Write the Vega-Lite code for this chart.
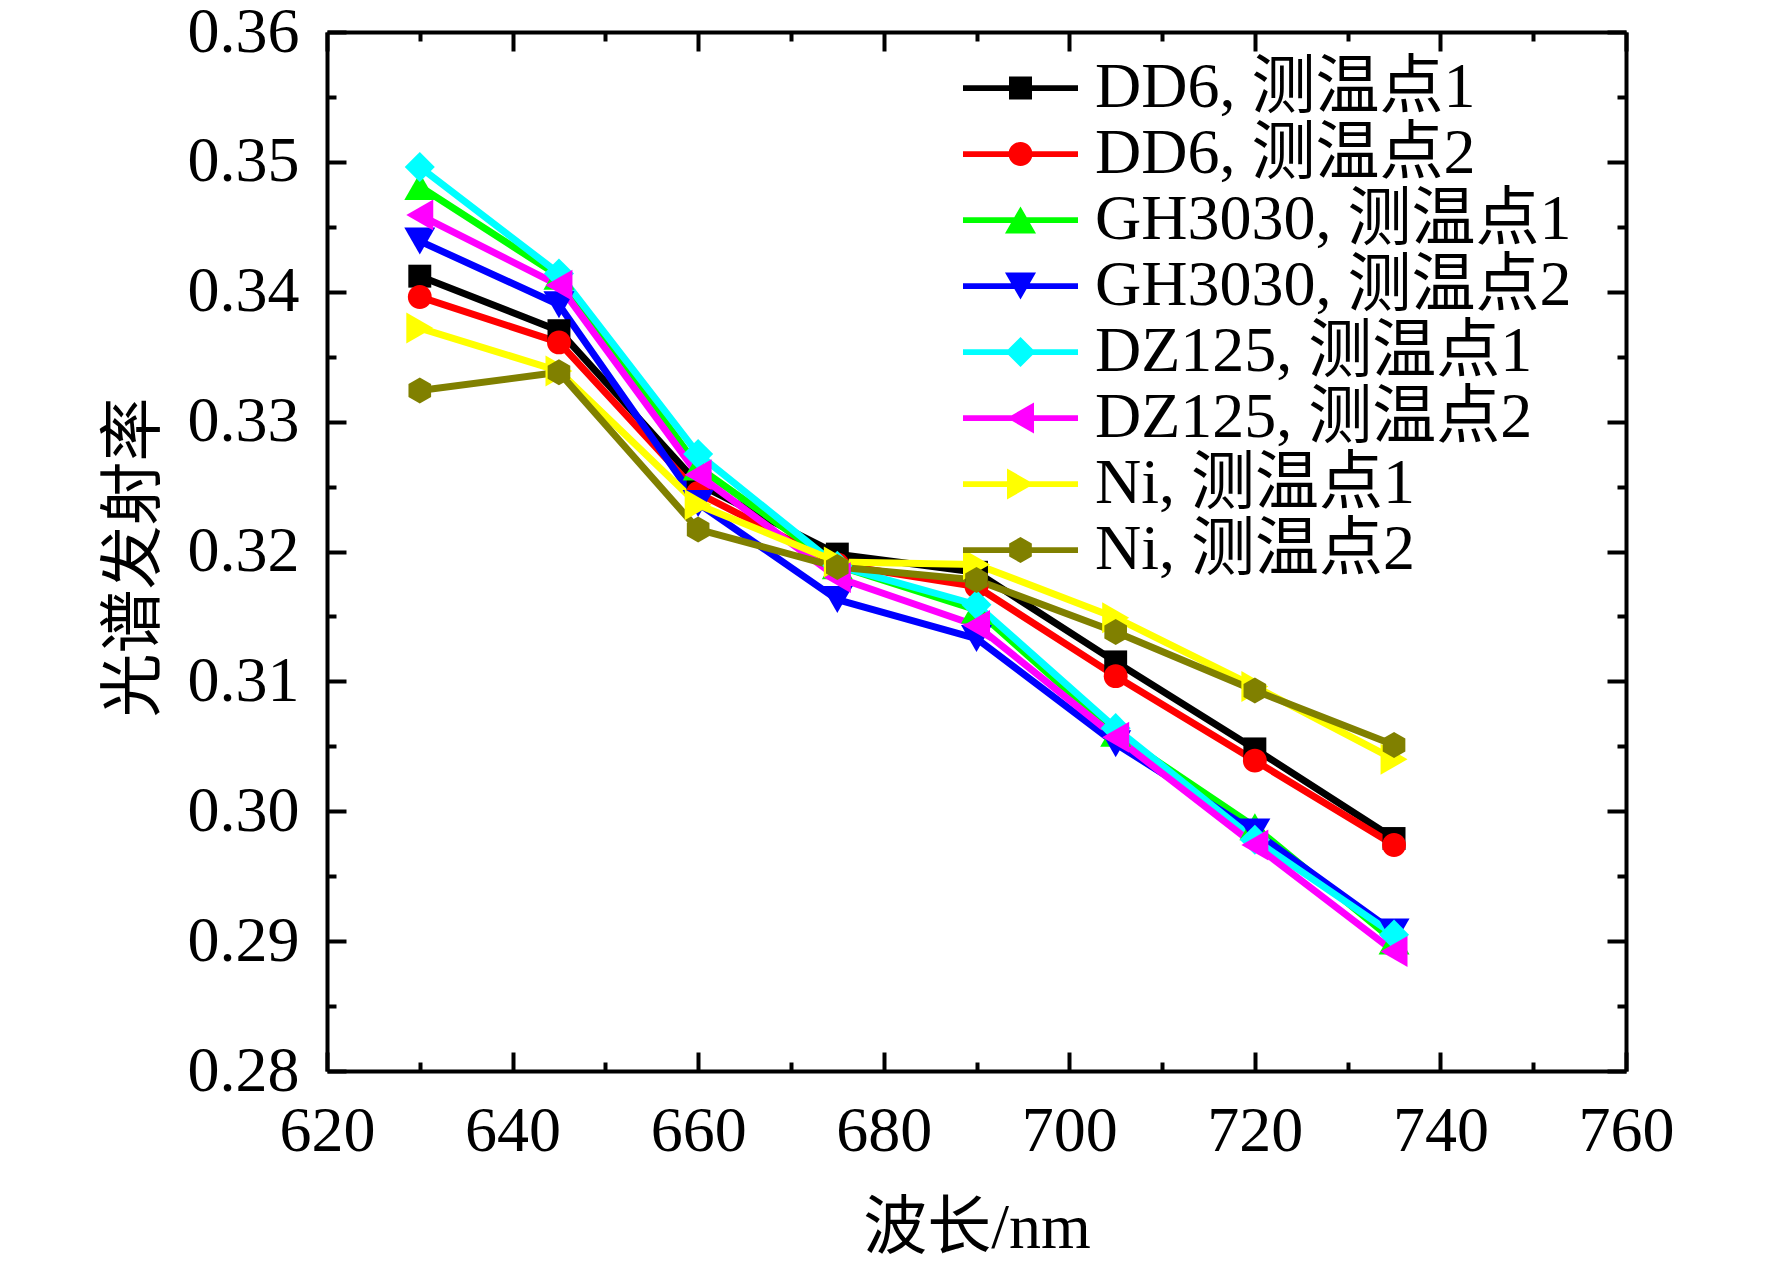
{
  "$schema": "https://vega.github.io/schema/vega-lite/v6.json",
  "width": 1299,
  "height": 1039,
  "autosize": {"type": "none"},
  "padding": {"left": 327, "top": 32, "right": 146, "bottom": 200},
  "background": "white",
  "config": {
    "view": {"stroke": null},
    "axis": {
      "domainColor": "black", "domainWidth": 4, "tickColor": "black", "tickWidth": 4,
      "grid": false, "labelFont": "Liberation Serif, Noto Sans CJK SC", "labelFontSize": 64,
      "labelColor": "black", "titleFont": "Liberation Serif, Noto Sans CJK SC", "titleFontSize": 64,
      "titleColor": "black", "titleFontWeight": "normal", "labelOverlap": false, "labelBound": false, "labelFlush": false
    },
    "legend": {
      "labelFont": "Liberation Serif, Noto Sans CJK SC", "labelFontSize": 64, "labelColor": "black", "labelLimit": 0,
      "symbolSize": 13225, "labelOffset": 17, "rowPadding": 2, "padding": 0, "symbolStrokeWidth": 0, "clipHeight": 64,
      "symbolOpacity": 1, "orient": "none", "legendX": 636, "legendY": 24, "title": null
    }
  },
  "data": {"values": [
    {"wl": 630, "e": 0.3412, "s": "DD6, 测温点1"},
    {"wl": 645, "e": 0.3370, "s": "DD6, 测温点1"},
    {"wl": 660, "e": 0.3252, "s": "DD6, 测温点1"},
    {"wl": 675, "e": 0.3198, "s": "DD6, 测温点1"},
    {"wl": 690, "e": 0.3184, "s": "DD6, 测温点1"},
    {"wl": 705, "e": 0.3115, "s": "DD6, 测温点1"},
    {"wl": 720, "e": 0.3048, "s": "DD6, 测温点1"},
    {"wl": 735, "e": 0.2979, "s": "DD6, 测温点1"},
    {"wl": 630, "e": 0.3396, "s": "DD6, 测温点2"},
    {"wl": 645, "e": 0.3361, "s": "DD6, 测温点2"},
    {"wl": 660, "e": 0.3245, "s": "DD6, 测温点2"},
    {"wl": 675, "e": 0.3190, "s": "DD6, 测温点2"},
    {"wl": 690, "e": 0.3173, "s": "DD6, 测温点2"},
    {"wl": 705, "e": 0.3104, "s": "DD6, 测温点2"},
    {"wl": 720, "e": 0.3039, "s": "DD6, 测温点2"},
    {"wl": 735, "e": 0.2974, "s": "DD6, 测温点2"},
    {"wl": 630, "e": 0.3481, "s": "GH3030, 测温点1"},
    {"wl": 645, "e": 0.3412, "s": "GH3030, 测温点1"},
    {"wl": 660, "e": 0.3265, "s": "GH3030, 测温点1"},
    {"wl": 675, "e": 0.3189, "s": "GH3030, 测温点1"},
    {"wl": 690, "e": 0.3155, "s": "GH3030, 测温点1"},
    {"wl": 705, "e": 0.3060, "s": "GH3030, 测温点1"},
    {"wl": 720, "e": 0.2988, "s": "GH3030, 测温点1"},
    {"wl": 735, "e": 0.2900, "s": "GH3030, 测温点1"},
    {"wl": 630, "e": 0.3439, "s": "GH3030, 测温点2"},
    {"wl": 645, "e": 0.3390, "s": "GH3030, 测温点2"},
    {"wl": 660, "e": 0.3237, "s": "GH3030, 测温点2"},
    {"wl": 675, "e": 0.3163, "s": "GH3030, 测温点2"},
    {"wl": 690, "e": 0.3133, "s": "GH3030, 测温点2"},
    {"wl": 705, "e": 0.3052, "s": "GH3030, 测温点2"},
    {"wl": 720, "e": 0.2984, "s": "GH3030, 测温点2"},
    {"wl": 735, "e": 0.2907, "s": "GH3030, 测温点2"},
    {"wl": 630, "e": 0.3496, "s": "DZ125, 测温点1"},
    {"wl": 645, "e": 0.3414, "s": "DZ125, 测温点1"},
    {"wl": 660, "e": 0.3275, "s": "DZ125, 测温点1"},
    {"wl": 675, "e": 0.3189, "s": "DZ125, 测温点1"},
    {"wl": 690, "e": 0.3159, "s": "DZ125, 测温点1"},
    {"wl": 705, "e": 0.3064, "s": "DZ125, 测温点1"},
    {"wl": 720, "e": 0.2978, "s": "DZ125, 测温点1"},
    {"wl": 735, "e": 0.2905, "s": "DZ125, 测温点1"},
    {"wl": 630, "e": 0.3459, "s": "DZ125, 测温点2"},
    {"wl": 645, "e": 0.3405, "s": "DZ125, 测温点2"},
    {"wl": 660, "e": 0.3259, "s": "DZ125, 测温点2"},
    {"wl": 675, "e": 0.3180, "s": "DZ125, 测温点2"},
    {"wl": 690, "e": 0.3143, "s": "DZ125, 测温点2"},
    {"wl": 705, "e": 0.3057, "s": "DZ125, 测温点2"},
    {"wl": 720, "e": 0.2974, "s": "DZ125, 测温点2"},
    {"wl": 735, "e": 0.2892, "s": "DZ125, 测温点2"},
    {"wl": 630, "e": 0.3372, "s": "Ni, 测温点1"},
    {"wl": 645, "e": 0.3339, "s": "Ni, 测温点1"},
    {"wl": 660, "e": 0.3236, "s": "Ni, 测温点1"},
    {"wl": 675, "e": 0.3192, "s": "Ni, 测温点1"},
    {"wl": 690, "e": 0.3190, "s": "Ni, 测温点1"},
    {"wl": 705, "e": 0.3149, "s": "Ni, 测温点1"},
    {"wl": 720, "e": 0.3096, "s": "Ni, 测温点1"},
    {"wl": 735, "e": 0.3040, "s": "Ni, 测温点1"},
    {"wl": 630, "e": 0.3324, "s": "Ni, 测温点2"},
    {"wl": 645, "e": 0.3338, "s": "Ni, 测温点2"},
    {"wl": 660, "e": 0.3217, "s": "Ni, 测温点2"},
    {"wl": 675, "e": 0.3188, "s": "Ni, 测温点2"},
    {"wl": 690, "e": 0.3178, "s": "Ni, 测温点2"},
    {"wl": 705, "e": 0.3138, "s": "Ni, 测温点2"},
    {"wl": 720, "e": 0.3093, "s": "Ni, 测温点2"},
    {"wl": 735, "e": 0.3051, "s": "Ni, 测温点2"}
  ]},
  "resolve": {"axis": {"x": "independent", "y": "independent"}, "scale": {"shape": "independent", "color": "independent"}},
  "layer": [
    {
      "mark": {"type": "point", "filled": true, "opacity": 0, "size": 13225, "strokeWidth": 0},
      "encoding": {
        "x": {"field": "wl", "type": "quantitative",
          "scale": {"domain": [620, 760], "nice": false, "zero": false},
          "axis": {"orient": "bottom", "values": [620, 630, 640, 650, 660, 670, 680, 690, 700, 710, 720, 730, 740, 750, 760],
            "labelExpr": "datum.value % 20 === 0 ? datum.label : ''",
            "tickSize": {"condition": {"test": "datum.value % 20 === 0", "value": -19}, "value": -9},
            "labelPadding": 47, "title": "波长/nm", "titleY": 157, "titleBaseline": "middle"}},
        "y": {"field": "e", "type": "quantitative",
          "scale": {"domain": [0.28, 0.36], "nice": false, "zero": false},
          "axis": {"orient": "left", "values": [0.28, 0.285, 0.29, 0.295, 0.3, 0.305, 0.31, 0.315, 0.32, 0.325, 0.33, 0.335, 0.34, 0.345, 0.35, 0.355, 0.36],
            "labelExpr": "abs(datum.value*100 - round(datum.value*100)) < 0.01 ? format(datum.value, '.2f') : ''",
            "tickSize": {"condition": {"test": "abs(datum.value*100 - round(datum.value*100)) < 0.01", "value": -19}, "value": -9},
            "labelPadding": 47, "title": "光谱发射率", "titleX": -193, "titleY": 525, "titleBaseline": "middle", "titleAlign": "center"}},
        "color": {"field": "s", "type": "nominal",
          "scale": {"domain": ["DD6, 测温点1", "DD6, 测温点2", "GH3030, 测温点1", "GH3030, 测温点2", "DZ125, 测温点1", "DZ125, 测温点2", "Ni, 测温点1", "Ni, 测温点2"],
            "range": ["#000000", "#ff0000", "#00ff00", "#0000ff", "#00ffff", "#ff00ff", "#ffff00", "#808000"]},
          "legend": {"title": null, "orient": "none", "legendX": 636, "legendY": 24, "symbolOpacity": 1, "symbolStrokeWidth": 0, "labelLimit": 0, "clipHeight": 64, "rowPadding": 2}},
        "shape": {"field": "s", "type": "nominal",
          "scale": {"domain": ["DD6, 测温点1", "DD6, 测温点2", "GH3030, 测温点1", "GH3030, 测温点2", "DZ125, 测温点1", "DZ125, 测温点2", "Ni, 测温点1", "Ni, 测温点2"],
            "range": [
              "M-1,-0.05H1V0.05H-1ZM-0.2,-0.2H0.2V0.2H-0.2Z",
              "M-1,-0.05H1V0.05H-1ZM-0.208,0A0.208,0.208,0,1,1,0.208,0A0.208,0.208,0,1,1,-0.208,0Z",
              "M-1,-0.05H1V0.05H-1ZM0,-0.235L0.27,0.235L-0.27,0.235Z",
              "M-1,-0.05H1V0.05H-1ZM0,0.235L-0.27,-0.235L0.27,-0.235Z",
              "M-1,-0.05H1V0.05H-1ZM0,-0.262L0.262,0L0,0.262L-0.262,0Z",
              "M-1,-0.05H1V0.05H-1ZM-0.235,0L0.235,-0.27L0.235,0.27Z",
              "M-1,-0.05H1V0.05H-1ZM0.235,0L-0.235,0.27L-0.235,-0.27Z",
              "M-1,-0.05H1V0.05H-1ZM0,-0.227L0.197,-0.113L0.197,0.113L0,0.227L-0.197,0.113L-0.197,-0.113Z"]},
          "legend": {"title": null, "orient": "none", "legendX": 636, "legendY": 24, "symbolOpacity": 1, "symbolStrokeWidth": 0, "labelLimit": 0, "clipHeight": 64, "rowPadding": 2}}
      }
    },
    {
      "mark": {"type": "line", "strokeWidth": 7, "strokeJoin": "round", "strokeCap": "round"},
      "encoding": {
        "x": {"field": "wl", "type": "quantitative", "axis": null},
        "y": {"field": "e", "type": "quantitative", "axis": null},
        "color": {"field": "s", "type": "nominal",
          "scale": {"domain": ["DD6, 测温点1", "DD6, 测温点2", "GH3030, 测温点1", "GH3030, 测温点2", "DZ125, 测温点1", "DZ125, 测温点2", "Ni, 测温点1", "Ni, 测温点2"],
            "range": ["#000000", "#ff0000", "#00ff00", "#0000ff", "#00ffff", "#ff00ff", "#ffff00", "#808000"]},
          "legend": null}
      }
    },
    {
      "mark": {"type": "point", "filled": true, "opacity": 1, "size": 961, "strokeWidth": 0},
      "encoding": {
        "x": {"field": "wl", "type": "quantitative",
          "axis": {"orient": "top", "values": [620, 630, 640, 650, 660, 670, 680, 690, 700, 710, 720, 730, 740, 750, 760],
            "labels": false, "title": null,
            "tickSize": {"condition": {"test": "datum.value % 20 === 0", "value": -19}, "value": -9}}},
        "y": {"field": "e", "type": "quantitative",
          "axis": {"orient": "right", "values": [0.28, 0.285, 0.29, 0.295, 0.3, 0.305, 0.31, 0.315, 0.32, 0.325, 0.33, 0.335, 0.34, 0.345, 0.35, 0.355, 0.36],
            "labels": false, "title": null,
            "tickSize": {"condition": {"test": "abs(datum.value*100 - round(datum.value*100)) < 0.01", "value": -19}, "value": -9}}},
        "color": {"field": "s", "type": "nominal",
          "scale": {"domain": ["DD6, 测温点1", "DD6, 测温点2", "GH3030, 测温点1", "GH3030, 测温点2", "DZ125, 测温点1", "DZ125, 测温点2", "Ni, 测温点1", "Ni, 测温点2"],
            "range": ["#000000", "#ff0000", "#00ff00", "#0000ff", "#00ffff", "#ff00ff", "#ffff00", "#808000"]},
          "legend": null},
        "shape": {"field": "s", "type": "nominal",
          "scale": {"domain": ["DD6, 测温点1", "DD6, 测温点2", "GH3030, 测温点1", "GH3030, 测温点2", "DZ125, 测温点1", "DZ125, 测温点2", "Ni, 测温点1", "Ni, 测温点2"],
            "range": ["M-0.74,-0.74H0.74V0.74H-0.74Z", "M-0.77,0A0.77,0.77,0,1,1,0.77,0A0.77,0.77,0,1,1,-0.77,0Z", "M0,-0.87L1,0.87L-1,0.87Z", "M0,0.87L-1,-0.87L1,-0.87Z", "M0,-0.97L0.97,0L0,0.97L-0.97,0Z", "M-0.87,0L0.87,-1L0.87,1Z", "M0.87,0L-0.87,1L-0.87,-1Z", "M0,-0.84L0.73,-0.42L0.73,0.42L0,0.84L-0.73,0.42L-0.73,-0.42Z"]},
          "legend": null}
      }
    }
  ]
}
